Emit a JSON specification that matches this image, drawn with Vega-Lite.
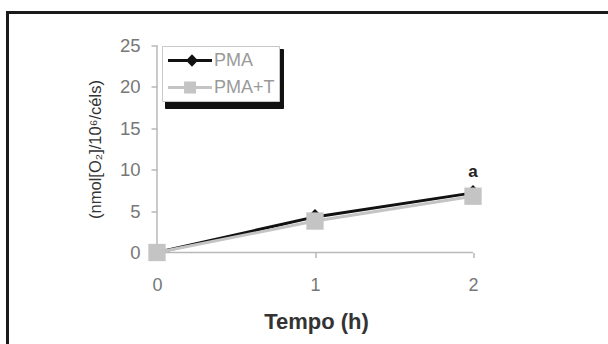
{
  "$schema": "https://vega.github.io/schema/vega-lite/v6.json",
  "width": 600.5,
  "height": 331.5,
  "autosize": {"type": "none"},
  "padding": {"left": 7.5, "top": 12.5, "right": 0, "bottom": 0},
  "background": "white",
  "config": {
    "font": "Liberation Sans",
    "view": {"stroke": "#1a1a1a", "strokeWidth": 3, "strokeDash": [600.5, 932, 331.5]},
    "axis": {"grid": false, "domain": false}
  },
  "datasets": {
    "series": [
      {"x": 0, "y": 0, "series": "PMA"},
      {"x": 1, "y": 4.3, "series": "PMA"},
      {"x": 2, "y": 7.2, "series": "PMA"},
      {"x": 0, "y": 0, "series": "PMA+T"},
      {"x": 1, "y": 3.8, "series": "PMA+T"},
      {"x": 2, "y": 6.8, "series": "PMA+T"}
    ],
    "axes": [
      {"x": 0, "y": 0, "x2": 0, "y2": 25},
      {"x": 0, "y": 0, "x2": 2, "y2": 0}
    ],
    "notes": [{"x": 2, "y": 9.1, "label": "a"}]
  },
  "layer": [
    {
      "data": {"name": "axes"},
      "mark": {"type": "rule", "color": "#b8b8b8", "strokeWidth": 1.5},
      "encoding": {
        "x": {
          "field": "x", "type": "quantitative",
          "scale": {"domain": [-0.946203, 2.85443], "nice": false, "zero": false},
          "axis": {
            "orient": "bottom", "offset": -91.5, "values": [0, 1, 2], "format": "d",
            "title": "Tempo (h)", "titleFontSize": 22, "titleFontWeight": "bold", "titleColor": "#333333",
            "titleX": 308.5, "titleY": 76, "titleBaseline": "alphabetic", "titleAlign": "center", "titleAngle": 0,
            "labelFontSize": 18, "labelColor": "#777777", "labelBaseline": "alphabetic", "labelPadding": 32.5,
            "labelFlush": false, "labelOverlap": false,
            "tickSize": 5, "tickColor": "#b8b8b8", "tickWidth": 1.5
          }
        },
        "y": {
          "field": "y", "type": "quantitative",
          "scale": {"domain": [-11.05072, 28.98551], "nice": false, "zero": false},
          "axis": {
            "orient": "left", "offset": -149.5, "values": [0, 5, 10, 15, 20, 25], "format": "d",
            "title": "(nmol[O₂]/10⁶/céls)", "titleFontSize": 16.5, "titleFontWeight": "normal", "titleColor": "#333333",
            "titleX": -57, "titleY": 136.5, "titleAngle": 270, "titleBaseline": "alphabetic", "titleAlign": "center",
            "labelFontSize": 18.5, "labelColor": "#777777", "labelPadding": 11,
            "labelFlush": false, "labelOverlap": false,
            "tickSize": 6, "tickColor": "#b8b8b8", "tickWidth": 1.5
          }
        },
        "x2": {"field": "x2"},
        "y2": {"field": "y2"}
      }
    },
    {
      "data": {"name": "series"},
      "transform": [{"filter": "datum.series === 'PMA'"}],
      "mark": {"type": "line", "strokeWidth": 3, "color": "#111111"},
      "encoding": {
        "x": {"field": "x", "type": "quantitative"},
        "y": {"field": "y", "type": "quantitative"}
      }
    },
    {
      "data": {"name": "series"},
      "transform": [{"filter": "datum.series === 'PMA+T'"}],
      "mark": {"type": "line", "strokeWidth": 3, "color": "#c4c4c4"},
      "encoding": {
        "x": {"field": "x", "type": "quantitative"},
        "y": {"field": "y", "type": "quantitative"}
      }
    },
    {
      "data": {"name": "series"},
      "transform": [{"filter": "datum.series === 'PMA'"}],
      "mark": {"type": "point", "shape": "diamond", "filled": true, "size": 256, "opacity": 1, "color": "#111111"},
      "encoding": {
        "x": {"field": "x", "type": "quantitative"},
        "y": {"field": "y", "type": "quantitative"}
      }
    },
    {
      "data": {"name": "series"},
      "transform": [{"filter": "datum.series === 'PMA+T'"}],
      "mark": {"type": "point", "shape": "square", "filled": true, "size": 300, "opacity": 1, "color": "#c4c4c4"},
      "encoding": {
        "x": {"field": "x", "type": "quantitative"},
        "y": {"field": "y", "type": "quantitative"}
      }
    },
    {
      "data": {"name": "series"},
      "mark": {"type": "point", "filled": true, "opacity": 0},
      "encoding": {
        "x": {"field": "x", "type": "quantitative"},
        "y": {"field": "y", "type": "quantitative"},
        "strokeDash": {
          "field": "series", "type": "nominal",
          "legend": {
            "orient": "none", "legendX": 157.5, "legendY": 36.5, "title": null, "zindex": 0,
            "padding": 4, "rowPadding": 7, "symbolSize": 441, "labelOffset": 87,
            "labelFontSize": 1, "labelOpacity": 0, "labelLimit": 300,
            "labelExpr": "''",
            "strokeColor": "#111111", "fillColor": "#111111",
            "symbolOpacity": 0
          }
        }
      }
    },
    {
      "data": {"name": "series"},
      "mark": {"type": "point", "filled": true, "opacity": 0},
      "encoding": {
        "x": {"field": "x", "type": "quantitative"},
        "y": {"field": "y", "type": "quantitative"},
        "color": {
          "field": "series", "type": "nominal",
          "scale": {"domain": ["PMA", "PMA+T"], "range": ["#111111", "#c4c4c4"]},
          "legend": {
            "orient": "none", "legendX": 154.5, "legendY": 33.5, "title": null, "zindex": 1,
            "padding": 4, "rowPadding": 7, "symbolSize": 441, "labelOffset": 27,
            "labelFontSize": 18, "labelColor": "#9a9a9a", "labelLimit": 300,
            "strokeColor": "#c8c8c8", "fillColor": "white",
            "symbolOpacity": 1, "symbolStrokeWidth": 0
          }
        },
        "shape": {
          "field": "series", "type": "nominal",
          "scale": {
            "domain": ["PMA", "PMA+T"],
            "range": [
              "M-0.81,-0.143H3.38V0.143H-0.81Z M1.476,-0.6L2.046,0L1.476,0.6L0.906,0Z",
              "M-0.81,-0.143H3.38V0.143H-0.81Z M0.72,-0.57H1.86V0.57H0.72Z"
            ]
          },
          "legend": {
            "orient": "none", "legendX": 154.5, "legendY": 33.5, "title": null, "zindex": 1,
            "padding": 4, "rowPadding": 7, "symbolSize": 441, "labelOffset": 27,
            "labelFontSize": 18, "labelColor": "#9a9a9a", "labelLimit": 300,
            "strokeColor": "#c8c8c8", "fillColor": "white",
            "symbolOpacity": 1, "symbolStrokeWidth": 0
          }
        }
      }
    },
    {
      "data": {"name": "notes"},
      "mark": {"type": "text", "fontSize": 17, "fontWeight": "bold", "color": "#222222", "baseline": "alphabetic", "align": "center"},
      "encoding": {
        "x": {"field": "x", "type": "quantitative"},
        "y": {"field": "y", "type": "quantitative"},
        "text": {"field": "label"}
      }
    }
  ]
}
